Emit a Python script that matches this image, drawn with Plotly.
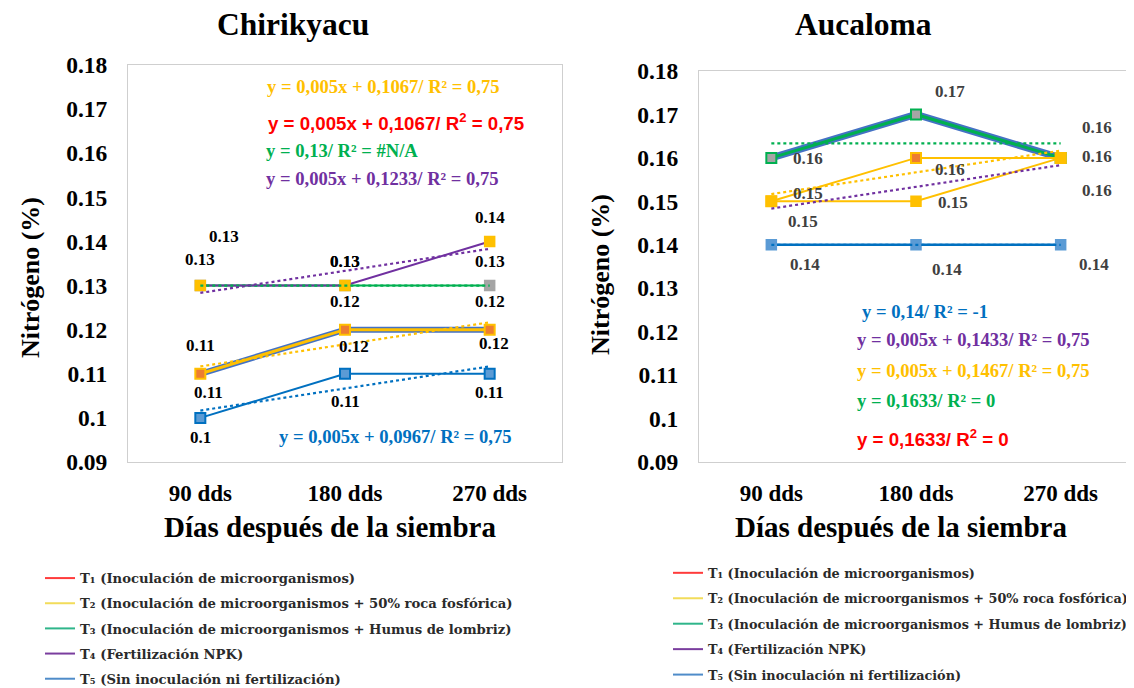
import numpy as np
import plotly.graph_objects as go

# ---------------- data ----------------
categories = ["90 dds", "180 dds", "270 dds"]
days_index = [1, 2, 3]

treatment_names = [
    "T₁ (Inoculación de microorganismos)",
    "T₂ (Inoculación de microorganismos + 50% roca fosfórica)",
    "T₃ (Inoculación de microorganismos + Humus de lombriz)",
    "T₄ (Fertilización NPK)",
    "T₅ (Sin inoculación ni fertilización)",
]

# Chirikyacu (nitrógeno %)
chk_t1 = [0.11, 0.12, 0.12]
chk_t2 = [0.11, 0.12, 0.12]
chk_t3 = [0.13, 0.13, 0.13]
chk_t4 = [0.13, 0.13, 0.14]
chk_t5 = [0.10, 0.11, 0.11]

# Aucaloma (nitrógeno %)
auc_t1 = [0.16, 0.17, 0.16]
auc_t2 = [0.15, 0.16, 0.16]
auc_t3 = [0.16, 0.17, 0.16]
auc_t4 = [0.15, 0.15, 0.16]
auc_t5 = [0.14, 0.14, 0.14]

y_tick_values = [0.09, 0.10, 0.11, 0.12, 0.13, 0.14, 0.15, 0.16, 0.17, 0.18]
y_tick_labels = ["0.09", "0.1", "0.11", "0.12", "0.13", "0.14", "0.15", "0.16", "0.17", "0.18"]

chk_equations = {
    "t2": "y = 0,005x + 0,1067/ R² = 0,75",
    "t1": "y = 0,005x + 0,1067/ R<sup>2</sup> = 0,75",
    "t3": "y = 0,13/ R² = #N/A",
    "t4": "y = 0,005x + 0,1233/ R² = 0,75",
    "t5": "y = 0,005x + 0,0967/ R² = 0,75",
}
auc_equations = {
    "t5": "y = 0,14/ R² = -1",
    "t4": "y = 0,005x + 0,1433/ R² = 0,75",
    "t2": "y = 0,005x + 0,1467/ R² = 0,75",
    "t3": "y = 0,1633/ R² = 0",
    "t1": "y = 0,1633/ R<sup>2</sup> = 0",
}

# ---------------- layout constants ----------------
OFF = 8                      # page offset of the figure inside the browser window
FIG_W, FIG_H = 1134 - OFF, 688 - OFF
ML, MT = 128 - OFF, 65 - OFF
MR = FIG_W - (1133 - OFF)
MB = FIG_H - (462 - OFF)
PW, PH = FIG_W - ML - MR, FIG_H - MT - MB

SERIF = "Liberation Serif"
SANS = "Liberation Sans"

C_T1 = "#4472C4"
C_YEL = "#FFC000"
C_ORG = "#ED7D31"
C_GRN = "#00B050"
C_GRY = "#A5A5A5"
C_PUR = "#7030A0"
C_BLU = "#0070C0"
C_LBL = "#5B9BD5"
C_RED = "#FF0000"

legend_colors = ["#FF3B3B", "#F2DC5A", "#2FB58A", "#7A3D9E", "#4F8CC9"]


def px_x(sx):
    """screen x (pixels) -> paper x"""
    return (sx - OFF - ML) / PW


def px_y(sy):
    """screen y (pixels) -> paper y"""
    return (FIG_H - MB - (sy - OFF)) / PH


def trend(vals):
    slope, intercept = np.polyfit(days_index, vals, 1)
    return [slope * d + intercept for d in days_index]


fig = go.Figure()


def line_trace(vals, xa, ya, color, width, marker=None, dash=None):
    mode = "lines+markers" if marker else "lines"
    tr = go.Scatter(
        x=categories, y=vals, xaxis=xa, yaxis=ya, mode=mode,
        line=dict(color=color, width=width, dash=dash),
        showlegend=False, hoverinfo="skip",
    )
    if marker:
        tr.marker = marker
    return tr


def sq(fill, edge, size=10, ew=1.5):
    return dict(symbol="square", size=size, color=fill, line=dict(color=edge, width=ew))


# ---- Chirikyacu traces ----
fig.add_trace(line_trace(chk_t1, "x", "y", C_T1, 6))
fig.add_trace(line_trace(chk_t2, "x", "y", C_YEL, 3, sq(C_ORG, C_YEL, 10, 2)))
fig.add_trace(line_trace(chk_t3, "x", "y", C_GRN, 2, sq(C_GRY, C_GRY)))
fig.add_trace(line_trace(chk_t4, "x", "y", C_PUR, 2, sq(C_YEL, C_YEL)))
fig.add_trace(line_trace(chk_t5, "x", "y", C_BLU, 2, sq(C_LBL, C_BLU, 10, 2)))
for vals, col in [(chk_t3, C_GRN), (chk_t4, C_PUR), (chk_t2, C_YEL), (chk_t5, C_BLU)]:
    fig.add_trace(line_trace(trend(vals), "x", "y", col, 2.2, dash="dot"))

# ---- Aucaloma traces ----
fig.add_trace(line_trace(auc_t1, "x2", "y2", C_T1, 7))
fig.add_trace(line_trace(auc_t3, "x2", "y2", C_GRN, 3, sq(C_GRY, C_GRN, 10, 2)))
fig.add_trace(line_trace(auc_t2, "x2", "y2", C_YEL, 2, sq(C_ORG, C_YEL, 10, 2)))
fig.add_trace(line_trace(auc_t4, "x2", "y2", C_YEL, 2, sq(C_YEL, C_YEL)))
fig.add_trace(line_trace(auc_t5, "x2", "y2", C_BLU, 2.5, sq(C_LBL, C_LBL)))
for vals, col in [(auc_t3, C_GRN), (auc_t2, C_YEL), (auc_t4, C_PUR), (auc_t5, C_BLU)]:
    fig.add_trace(line_trace(trend(vals), "x2", "y2", col, 2.2, dash="dot"))

# ---- legend-only entries ----
for legend_id in ["legend", "legend2"]:
    for i, (name, col) in enumerate(zip(treatment_names, legend_colors)):
        fig.add_trace(go.Scatter(
            x=[None], y=[None], mode="lines", name=name,
            line=dict(color=col, width=2), legend=legend_id,
            legendgroup=f"{legend_id}_{i}", showlegend=True,
            xaxis="x" if legend_id == "legend" else "x2",
            yaxis="y" if legend_id == "legend" else "y2",
        ))

annotations = []

# ---- data labels (value text from the series) ----
chk_label_offsets = [
    (chk_t1, [(0, -28), (0, -28), (0, -28)]),
    (chk_t2, [(8, 19), (9, 17), (4, 14)]),
    (chk_t3, [(0, -26), (0, -24), (0, -24)]),
    (chk_t4, [(24, -49), (0, -24), (0, -24)]),
    (chk_t5, [(0, 20), (0, 28), (0, 19)]),
]
auc_label_offsets = [
    (auc_t1, [(37, 1), (34, -23), (36, -30)]),
    (auc_t2, [(37, -8), (34, 12), (36, -1)]),
    (auc_t4, [(32, 20), (37, 1), (36, 33)]),
    (auc_t5, [(34, 20), (31, 25), (33, 20)]),
]


def fmt(v):
    s = f"{v:.2f}"
    return s[:-1] if s.endswith("0") else s


for series, offs in chk_label_offsets:
    for cat, v, (dx, dy) in zip(categories, series, offs):
        annotations.append(dict(
            x=cat, y=v, xref="x", yref="y", text=fmt(v), showarrow=False,
            xshift=dx, yshift=-dy,
            font=dict(family=SERIF, size=17, color="#000000", weight="bold")))
for series, offs in auc_label_offsets:
    for cat, v, (dx, dy) in zip(categories, series, offs):
        annotations.append(dict(
            x=cat, y=v, xref="x2", yref="y2", text=fmt(v), showarrow=False,
            xshift=dx, yshift=-dy,
            font=dict(family=SERIF, size=17, color="#404040", weight="bold")))

# ---- trendline equations ----
eq_style = {
    "t1": (SANS, 18.7, C_RED),
    "t2": (SERIF, 18.6, C_YEL),
    "t3": (SERIF, 18.6, C_GRN),
    "t4": (SERIF, 18.6, C_PUR),
    "t5": (SERIF, 18.6, C_BLU),
}
chk_eq_pos = {"t2": (265, 86), "t1": (266, 122), "t3": (264, 150), "t4": (264, 178), "t5": (277, 436)}
auc_eq_pos = {"t5": (860, 311), "t4": (855, 340), "t2": (855, 370), "t3": (855, 400), "t1": (855, 438)}
for eqs, pos in [(chk_equations, chk_eq_pos), (auc_equations, auc_eq_pos)]:
    for key, txt in eqs.items():
        fam, size, col = eq_style[key]
        sx, sy = pos[key]
        annotations.append(dict(
            x=px_x(sx), y=px_y(sy), xref="paper", yref="paper", text=txt,
            showarrow=False, xanchor="left", yanchor="middle",
            font=dict(family=fam, size=size, color=col, weight="bold")))

# ---- panel titles and axis titles ----
for title, cx in [("Chirikyacu", 293), ("Aucaloma", 863)]:
    annotations.append(dict(
        x=px_x(cx), y=px_y(25), xref="paper", yref="paper", text=title,
        showarrow=False, xanchor="center", yanchor="middle",
        font=dict(family=SERIF, size=31.5, color="#000000", weight="bold")))
for cx in [330, 901]:
    annotations.append(dict(
        x=px_x(cx), y=px_y(527), xref="paper", yref="paper",
        text="Días después de la siembra", showarrow=False,
        xanchor="center", yanchor="middle",
        font=dict(family=SERIF, size=29, color="#000000", weight="bold")))
for cx, cy in [(30, 278), (600, 275)]:
    annotations.append(dict(
        x=px_x(cx), y=px_y(cy), xref="paper", yref="paper",
        text="Nitrógeno (%)", showarrow=False, textangle=-90,
        xanchor="center", yanchor="middle",
        font=dict(family=SERIF, size=26, color="#000000", weight="bold")))

axis_common = dict(
    showgrid=False, zeroline=False, showline=True, mirror=True,
    linecolor="#CFCFCF", linewidth=1, ticks="", automargin=False,
)
x_common = dict(
    axis_common, type="category", categoryorder="array", categoryarray=categories,
    range=[-0.5, 2.5], ticklabelstandoff=10,
    tickfont=dict(family=SERIF, size=23, color="#000000", weight="bold"),
)
y_common = dict(
    axis_common, range=[0.09, 0.18], tickmode="array",
    tickvals=y_tick_values, ticktext=y_tick_labels, ticklabelstandoff=15,
    tickfont=dict(family=SERIF, size=23.5, color="#000000", weight="bold"),
)

legend_common = dict(
    xref="container", yref="container", xanchor="left", yanchor="top",
    orientation="v", bgcolor="rgba(0,0,0,0)", borderwidth=0,
    traceorder="grouped",
)

fig.update_layout(
    width=FIG_W, height=FIG_H,
    margin=dict(l=ML, r=MR, t=MT, b=MB, autoexpand=False),
    paper_bgcolor="white", plot_bgcolor="white",
    xaxis=dict(x_common, domain=[0, px_x(562)], anchor="y"),
    yaxis=dict(y_common, domain=[0, 1], anchor="x"),
    xaxis2=dict(x_common, domain=[px_x(699), 1], anchor="y2"),
    yaxis2=dict(y_common, domain=[0, px_y(71)], anchor="x2"),
    legend=dict(legend_common, x=32 / FIG_W, y=1 - 555 / FIG_H, tracegroupgap=5,
                font=dict(family="DejaVu Serif", size=13.2, color="#2A2A2A", weight="bold")),
    legend2=dict(legend_common, x=660 / FIG_W, y=1 - 550 / FIG_H, tracegroupgap=5.8,
                 font=dict(family="DejaVu Serif", size=12.8, color="#2A2A2A", weight="bold")),
    annotations=annotations,
    showlegend=True,
)

fig.write_html("out.html")
